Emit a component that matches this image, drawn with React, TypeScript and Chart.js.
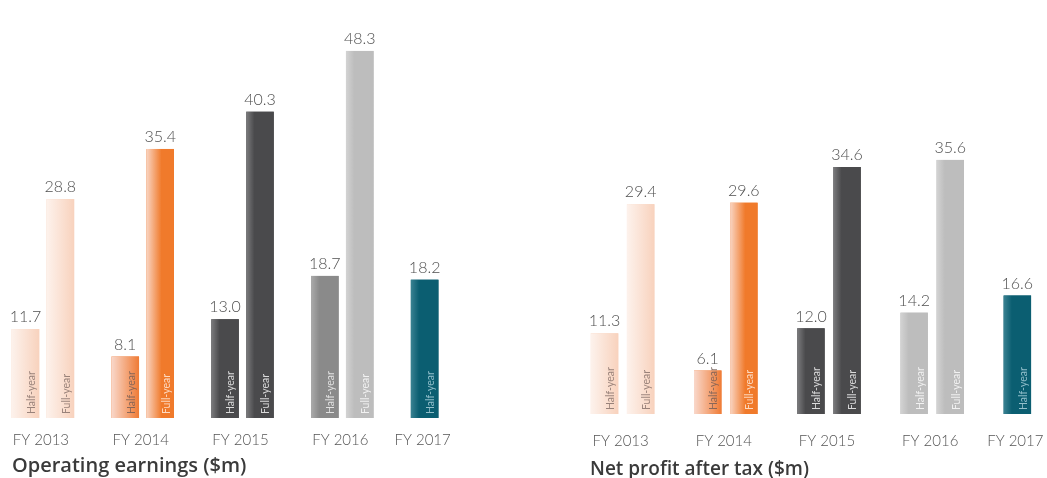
import { useEffect, useRef } from 'react';
import { Chart, registerables } from 'chart.js';

Chart.register(...registerables);

// ---------- data ----------
const years = ['FY 2013', 'FY 2014', 'FY 2015', 'FY 2016', 'FY 2017'];
const seriesNames = ['Half-year', 'Full-year'];
const opHalf = [11.7, 8.1, 13.0, 18.7, 18.2];
const opFull = [28.8, 35.4, 40.3, 48.3, null];
const npHalf = [11.3, 6.1, 12.0, 14.2, 16.6];
const npFull = [29.4, 29.6, 34.6, 35.6, null];
const opTitle = 'Operating earnings ($m)';
const npTitle = 'Net profit after tax ($m)';

// ---------- styles: [left edge colour, main colour, stop where main starts, inner text colour] ----------
type Sty = [string, string, number, string];
const PEACH: Sty = ['#fdf2ec', '#f8d2bd', 1, 'rgba(120,100,95,0.75)'];
const ORANGE_H: Sty = ['#f9d8cb', '#ef7b35', 1, 'rgba(110,90,85,0.8)'];
const ORANGE_F: Sty = ['#f9d5c3', '#f07a2b', 0.55, 'rgba(255,235,220,0.85)'];
const DARK: Sty = ['#7c7c7e', '#4a4a4c', 0.3, 'rgba(255,255,255,0.8)'];
const MID: Sty = ['#ababab', '#8a8a8a', 0.3, 'rgba(255,255,255,0.75)'];
const LIGHT: Sty = ['#d3d3d3', '#bdbdbd', 0.3, 'rgba(255,255,255,0.8)'];
const TEAL: Sty = ['#3a8292', '#0b5e71', 0.3, 'rgba(180,215,225,0.8)'];

const opHalfStyle: Sty[] = [PEACH, ORANGE_H, DARK, MID, TEAL];
const opFullStyle: Sty[] = [PEACH, ORANGE_F, DARK, LIGHT, TEAL];
const npHalfStyle: Sty[] = [PEACH, ORANGE_H, DARK, LIGHT, TEAL];
const npFullStyle: Sty[] = [PEACH, ORANGE_F, DARK, LIGHT, TEAL];

const FONT = 'Lato, "Open Sans", sans-serif';
const TITLE_FONT = '"Open Sans", Lato, sans-serif';

const decorPlugin = {
  id: 'decor',
  afterDatasetsDraw(chart: any, _args: any, opts: any) {
    const ctx: CanvasRenderingContext2D = chart.ctx;
    const styles: Sty[][] = opts.styles;
    chart.data.datasets.forEach((ds: any, di: number) => {
      const meta = chart.getDatasetMeta(di);
      meta.data.forEach((el: any, i: number) => {
        const v = ds.data[i];
        if (v == null) return;
        const { x, y, base, width } = el.getProps(['x', 'y', 'base', 'width'], true);
        const st = styles[di][i];
        const l = x - width / 2;
        const g = ctx.createLinearGradient(l, 0, l + width, 0);
        g.addColorStop(0, st[0]);
        g.addColorStop(st[2], st[1]);
        g.addColorStop(1, st[1]);
        ctx.save();
        ctx.fillStyle = g;
        ctx.fillRect(l, y, width, base - y);
        ctx.translate(x + 6, base - 4);
        ctx.rotate(-Math.PI / 2);
        ctx.fillStyle = st[3];
        ctx.font = `400 10.5px ${FONT}`;
        ctx.textAlign = 'left';
        ctx.textBaseline = 'middle';
        ctx.fillText(ds.label, 0, 0);
        ctx.restore();

        ctx.save();
        ctx.fillStyle = '#505050';
        ctx.font = `300 16px ${FONT}`;
        ctx.textAlign = 'center';
        ctx.textBaseline = 'bottom';
        ctx.fillText(Number(v).toFixed(1), x, y - 4);
        ctx.restore();
      });
    });
    // category labels, centred under the bars present
    ctx.save();
    ctx.fillStyle = '#555555';
    ctx.font = `300 15px ${FONT}`;
    ctx.textAlign = 'center';
    ctx.textBaseline = 'middle';
    chart.data.labels.forEach((lab: string, i: number) => {
      const xs: number[] = [];
      chart.data.datasets.forEach((ds: any, di: number) => {
        if (ds.data[i] != null) xs.push(chart.getDatasetMeta(di).data[i].x);
      });
      const cx = xs.reduce((a, b) => a + b, 0) / xs.length;
      ctx.fillText(lab, cx - 2, opts.labelY);
    });
    // title
    ctx.fillStyle = '#3a3a3a';
    ctx.font = `600 ${opts.titleSize}px ${TITLE_FONT}`;
    ctx.textAlign = 'left';
    ctx.textBaseline = 'alphabetic';
    ctx.fillText(opts.title, opts.titleX, opts.titleY);
    ctx.restore();
  },
};

function BarPanel(props: {
  half: (number | null)[];
  full: (number | null)[];
  halfStyle: Sty[];
  fullStyle: Sty[];
  left: number;
  width: number;
  padBottom: number;
  yMax: number;
  barPct: number;
  labelY: number;
  title: string;
  titleX: number;
  titleY: number;
  titleSize: number;
}) {
  const ref = useRef<HTMLCanvasElement>(null);
  useEffect(() => {
    const chart = new Chart(ref.current as HTMLCanvasElement, {
      type: 'bar',
      data: {
        labels: years,
        datasets: [
          {
            label: seriesNames[0],
            data: props.half,
            backgroundColor: props.halfStyle.map((s) => s[1]),
            borderWidth: 0,
            categoryPercentage: 0.7,
            barPercentage: props.barPct,
          },
          {
            label: seriesNames[1],
            data: props.full,
            backgroundColor: props.fullStyle.map((s) => s[1]),
            borderWidth: 0,
            categoryPercentage: 0.7,
            barPercentage: props.barPct,
          },
        ],
      },
      options: {
        responsive: false,
        animation: false,
        layout: { padding: { top: 0, bottom: props.padBottom, left: 0, right: 0 } },
        scales: {
          x: { display: false },
          y: { display: false, min: 0, max: props.yMax },
        },
        plugins: {
          legend: { display: false },
          tooltip: { enabled: false },
          decor: {
            styles: [props.halfStyle, props.fullStyle],
            labelY: props.labelY,
            title: props.title,
            titleX: props.titleX,
            titleY: props.titleY,
            titleSize: props.titleSize,
          },
        } as any,
      },
      plugins: [decorPlugin],
    });
    return () => chart.destroy();
  }, []);
  return (
    <canvas
      ref={ref}
      width={props.width}
      height={478}
      style={{ position: 'absolute', left: props.left, top: 0, width: props.width, height: 478 }}
    />
  );
}

export default function App() {
  return (
    <div
      style={{
        position: 'fixed',
        left: 0,
        top: 0,
        width: 1047,
        height: 478,
        overflow: 'hidden',
        background: '#ffffff',
      }}
    >
      <BarPanel
        half={opHalf}
        full={opFull}
        halfStyle={opHalfStyle}
        fullStyle={opFullStyle}
        left={-7}
        width={499}
        padBottom={60}
        yMax={55}
        barPct={0.79}
        labelY={440}
        title={opTitle}
        titleX={19}
        titleY={472}
        titleSize={20}
      />
      <BarPanel
        half={npHalf}
        full={npFull}
        halfStyle={npHalfStyle}
        fullStyle={npFullStyle}
        left={571}
        width={516}
        padBottom={64}
        yMax={58}
        barPct={0.76}
        labelY={441}
        title={npTitle}
        titleX={19}
        titleY={475}
        titleSize={19}
      />
    </div>
  );
}
